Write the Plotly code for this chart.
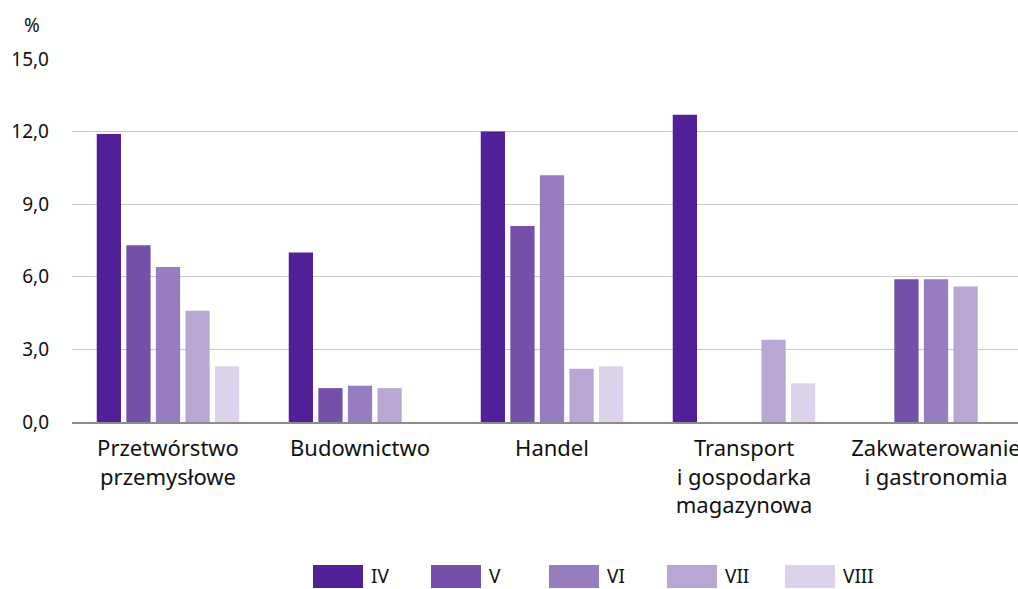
import plotly.graph_objects as go

categories = ["Przetwórstwo<br>przemysłowe", "Budownictwo", "Handel",
              "Transport<br>i gospodarka<br>magazynowa", "Zakwaterowanie<br>i gastronomia"]
series_names = ["IV", "V", "VI", "VII", "VIII"]
values_IV = [11.9, 7.0, 12.0, 12.7, None]
values_V = [7.3, 1.4, 8.1, None, 5.9]
values_VI = [6.4, 1.5, 10.2, None, 5.9]
values_VII = [4.6, 1.4, 2.2, 3.4, 5.6]
values_VIII = [2.3, None, 2.3, 1.6, None]
series_values = [values_IV, values_V, values_VI, values_VII, values_VIII]
colors = ["#52219a", "#7450ab", "#977dc0", "#b9a6d5", "#dcd3ea"]
y_ticks = [0, 3, 6, 9, 12, 15]

FONT = "Noto Sans"
PL, PT, PW, PH = 72, 59, 946, 363  # plot area in pixels


def px_x(x):
    return (x - PL) / PW


def px_y(y):
    return (PT + PH - y) / PH


fig = go.Figure()
for name, vals, col in zip(series_names, series_values, colors):
    fig.add_trace(go.Bar(x=list(range(len(categories))), y=vals, name=name,
                         marker=dict(color=col, line=dict(width=0)),
                         showlegend=False))

# custom legend (wide swatches) built from series names
leg_x0 = 313
leg_step = 118
for i, (name, col) in enumerate(zip(series_names, colors)):
    x0 = leg_x0 + i * leg_step
    fig.add_shape(type="rect", xref="paper", yref="paper",
                  x0=px_x(x0), x1=px_x(x0 + 50), y0=px_y(588), y1=px_y(565),
                  fillcolor=col, line=dict(width=0))
    fig.add_annotation(x=px_x(x0 + 56), y=px_y(576), xref="paper", yref="paper",
                       text=name, showarrow=False, xanchor="left", yanchor="middle",
                       font=dict(size=19, color="#111111", family=FONT))

fig.add_annotation(x=px_x(32), y=px_y(25), xref="paper", yref="paper", text="%",
                   showarrow=False, xanchor="center", yanchor="middle",
                   font=dict(size=19, color="#111111", family=FONT))

fig.update_layout(
    width=1018, height=589,
    margin=dict(l=PL, r=0, t=PT, b=589 - PT - PH, autoexpand=False),
    paper_bgcolor="white", plot_bgcolor="white",
    barmode="group", bargap=0.23, bargroupgap=0.18,
    separators=", ",
    font=dict(family=FONT, size=19, color="#111111"),
    xaxis=dict(range=[-0.5, 4.427], tickmode="array",
               tickvals=list(range(len(categories))), ticktext=categories,
               showgrid=False, zeroline=False, showline=True, linecolor="#8c8c8c",
               linewidth=1.5, ticks="", ticklabelstandoff=6, ticklabeloverflow="allow",
               tickfont=dict(size=22, family=FONT, color="#111111")),
    yaxis=dict(range=[0, 15], tickvals=y_ticks, tickformat=".1f",
               showgrid=True, gridcolor="#c8c8c8", gridwidth=1, zeroline=False,
               showline=False, ticks="", ticklabelstandoff=22,
               tickfont=dict(size=19, family=FONT, color="#111111")),
)

fig.write_html("out.html", config={"displayModeBar": False},
               post_script="document.body.style.margin='0';document.body.style.overflow='hidden';")
